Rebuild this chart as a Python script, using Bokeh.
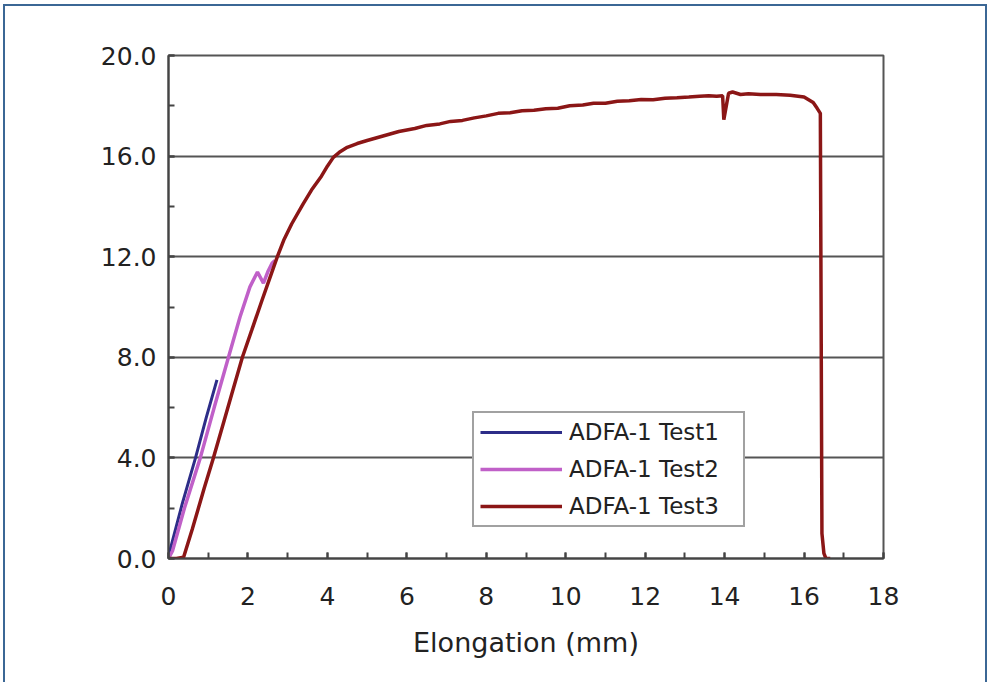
from bokeh.plotting import figure
from bokeh.layouts import column
from bokeh.models import (Range1d, SingleIntervalTicker, Legend, LegendItem,
                          NumeralTickFormatter)
from bokeh.embed import file_html
from bokeh.resources import INLINE

# ---- data ----
test1_x = [0.0, 0.05, 0.35, 0.68, 0.95, 1.22]
test1_y = [0.0, 0.4, 2.2, 4.0, 5.6, 7.1]

test2_x = [0.0, 0.1, 0.4, 0.8, 1.15, 1.51, 1.8, 2.05, 2.24, 2.39, 2.5, 2.61, 2.68]
test2_y = [0.0, 0.3, 2.0, 4.0, 6.0, 8.0, 9.6, 10.8, 11.39, 10.95, 11.4, 11.75, 11.85]

test3_x = [0.0, 0.2, 0.38, 0.6, 0.9, 1.13, 1.4, 1.6, 1.86, 2.1, 2.35, 2.55, 2.74,
           2.9, 3.1, 3.39, 3.6, 3.85, 4.0, 4.15, 4.3, 4.5, 4.75, 5.0, 5.4, 5.8,
           6.2, 6.5, 6.83, 7.1, 7.4, 7.7, 8.0, 8.3, 8.6, 8.9, 9.2, 9.5, 9.8,
           10.1, 10.43, 10.7, 11.0, 11.3, 11.6, 11.9, 12.2, 12.5, 12.8, 13.1,
           13.37, 13.6, 13.8, 13.95, 13.98, 14.02, 14.1, 14.2, 14.4, 14.6, 14.9,
           15.3, 15.65, 16.0, 16.23, 16.33, 16.41, 16.43, 16.45, 16.5, 16.55, 16.66]
test3_y = [0.0, 0.0, 0.05, 1.17, 2.8, 4.0, 5.48, 6.58, 8.0, 9.1, 10.25, 11.15, 12.0,
           12.65, 13.3, 14.1, 14.65, 15.2, 15.6, 15.95, 16.15, 16.35, 16.5, 16.62, 16.8,
           16.98, 17.1, 17.22, 17.28, 17.38, 17.42, 17.52, 17.6, 17.7, 17.72, 17.8,
           17.82, 17.88, 17.9, 18.0, 18.03, 18.1, 18.1, 18.18, 18.2, 18.25, 18.24,
           18.3, 18.32, 18.35, 18.38, 18.4, 18.38, 18.4, 17.45, 17.8, 18.5, 18.55,
           18.45, 18.48, 18.45, 18.45, 18.42, 18.35, 18.13, 17.9, 17.7, 9.5, 1.0,
           0.2, 0.0, 0.0]

series_labels = ["ADFA-1 Test1", "ADFA-1 Test2", "ADFA-1 Test3"]
series_colors = ["#2d2d88", "#c060c8", "#8b1616"]
x_label = "Elongation (mm)"

FONT = "DejaVu Sans"

p = figure(width=980, height=676, output_backend="svg", toolbar_location=None,
           x_range=Range1d(0, 18), y_range=Range1d(0, 20),
           min_border_left=163, min_border_right=102, min_border_top=49, min_border_bottom=124)
p.background_fill_color = "white"
p.border_fill_color = "white"
p.outline_line_color = "#555555"
p.outline_line_width = 2

p.xaxis.ticker = SingleIntervalTicker(interval=2, num_minor_ticks=2)
p.yaxis.ticker = SingleIntervalTicker(interval=4, num_minor_ticks=2)
p.yaxis.formatter = NumeralTickFormatter(format="0.0")

for ax in (p.xaxis, p.yaxis):
    ax.axis_line_color = "#444444"
    ax.axis_line_width = 2
    ax.major_tick_line_color = "#444444"
    ax.minor_tick_line_color = "#444444"
    ax.major_tick_line_width = 2
    ax.minor_tick_line_width = 2
    ax.major_tick_in = 6
    ax.major_tick_out = 0
    ax.minor_tick_in = 6
    ax.minor_tick_out = 0
    ax.major_label_text_font = FONT
    ax.major_label_text_font_size = "25px"
    ax.major_label_text_color = "#222222"

p.xaxis.major_label_standoff = 28
p.yaxis.major_label_standoff = 12
p.xaxis.axis_label = x_label
p.xaxis.axis_label_text_font = FONT
p.xaxis.axis_label_text_font_size = "27px"
p.xaxis.axis_label_text_font_style = "normal"
p.xaxis.axis_label_text_color = "#222222"
p.xaxis.axis_label_standoff = 19

p.xgrid.visible = False
p.ygrid.grid_line_color = "#555555"
p.ygrid.grid_line_width = 2

r1 = p.line(test1_x, test1_y, line_color=series_colors[0], line_width=3)
r2 = p.line(test2_x, test2_y, line_color=series_colors[1], line_width=3.5)
r3 = p.line(test3_x, test3_y, line_color=series_colors[2], line_width=3.5)

legend = Legend(items=[LegendItem(label=series_labels[0], renderers=[r1]),
                       LegendItem(label=series_labels[1], renderers=[r2]),
                       LegendItem(label=series_labels[2], renderers=[r3])],
                location=(304, 31))
legend.padding = 6
legend.spacing = 11
legend.glyph_width = 82
legend.glyph_height = 26
legend.label_height = 26
legend.label_width = 168
legend.label_standoff = 7
legend.label_text_font = FONT
legend.label_text_font_size = "23px"
legend.label_text_color = "#222222"
legend.border_line_color = "#444444"
legend.border_line_width = 2
legend.background_fill_color = "white"
legend.background_fill_alpha = 1.0
legend.margin = 0
p.add_layout(legend)

page = column(p, styles={"margin-left": "3px", "margin-top": "4px",
                         "border-top": "2px solid #3b6795",
                         "border-left": "2px solid #3b6795",
                         "border-right": "2px solid #3b6795"})

open("out.html", "w").write(file_html(page, INLINE))
